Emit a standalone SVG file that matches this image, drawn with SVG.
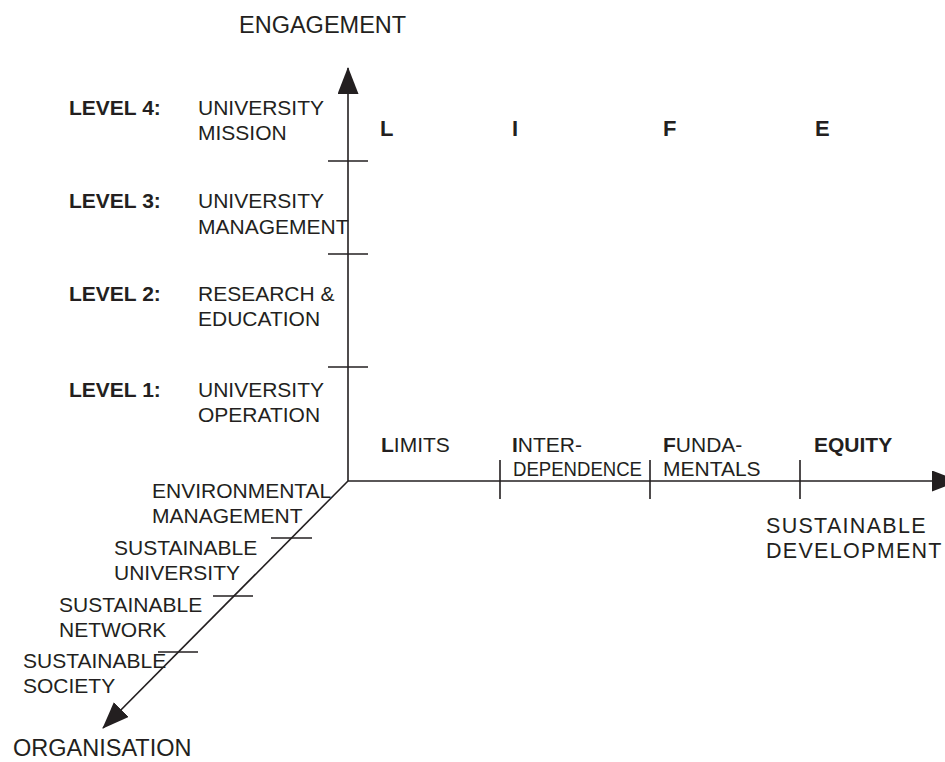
<svg xmlns="http://www.w3.org/2000/svg" width="945" height="762" viewBox="0 0 945 762">
<style>
text { font-family: "Liberation Sans", Arial, Helvetica, sans-serif; font-size: 21px; fill: #231f20; }
.b { font-weight: bold; }
.big { font-size: 22px; font-weight: bold; }
.title { font-size: 23.5px; }
.sd { font-size: 21.5px; letter-spacing: 1.3px; }
.axis { stroke: #231f20; stroke-width: 1.6; fill: none; }
.tick { stroke: #231f20; stroke-width: 1.6; }
</style>
<defs>
<marker id="arrow" markerUnits="userSpaceOnUse" markerWidth="28" markerHeight="22" refX="26" refY="10.5" orient="auto" viewBox="0 0 28 22">
<path d="M0,0 L27,10.5 L0,21 Z" fill="#231f20"/>
</marker>
</defs>
<rect width="945" height="762" fill="#ffffff"/>

<g id="connectors">
<line class="axis" x1="348" y1="481" x2="348" y2="68" marker-end="url(#arrow)"/>
<line class="axis" x1="348" y1="481" x2="958" y2="481" marker-end="url(#arrow)"/>
<line class="axis" x1="348" y1="481" x2="103" y2="728" marker-end="url(#arrow)"/>
<line class="tick" x1="328" y1="161" x2="368" y2="161"/>
<line class="tick" x1="328" y1="254" x2="368" y2="254"/>
<line class="tick" x1="328" y1="367" x2="368" y2="367"/>
<line class="tick" x1="500" y1="460" x2="500" y2="499"/>
<line class="tick" x1="650" y1="460" x2="650" y2="499"/>
<line class="tick" x1="800" y1="460" x2="800" y2="499"/>
<line class="tick" x1="271" y1="538" x2="312" y2="538"/>
<line class="tick" x1="213" y1="596" x2="253" y2="596"/>
<line class="tick" x1="158" y1="652" x2="198" y2="652"/>
</g>

<g id="engagement-title"><text class="title" x="239" y="33">ENGAGEMENT</text></g>

<g id="level4">
<text class="b" x="69" y="115">LEVEL 4:</text>
<text x="198" y="115">UNIVERSITY</text>
<text x="198" y="140">MISSION</text>
</g>
<g id="level3">
<text class="b" x="69" y="208">LEVEL 3:</text>
<text x="198" y="208">UNIVERSITY</text>
<text x="198" y="234">MANAGEMENT</text>
</g>
<g id="level2">
<text class="b" x="69" y="301">LEVEL 2:</text>
<text x="198" y="301">RESEARCH &amp;</text>
<text x="198" y="326">EDUCATION</text>
</g>
<g id="level1">
<text class="b" x="69" y="397">LEVEL 1:</text>
<text x="198" y="397">UNIVERSITY</text>
<text x="198" y="422">OPERATION</text>
</g>

<g id="life">
<text class="big" x="380" y="136">L</text>
<text class="big" x="512" y="136">I</text>
<text class="big" x="663" y="136">F</text>
<text class="big" x="815" y="136">E</text>
</g>

<g id="limits"><text x="381" y="452"><tspan class="b">L</tspan>IMITS</text></g>
<g id="interdependence">
<text x="512" y="452"><tspan class="b">I</tspan>NTER-</text>
<text x="513" y="476" textLength="129" lengthAdjust="spacingAndGlyphs">DEPENDENCE</text>
</g>
<g id="fundamentals">
<text x="663" y="452"><tspan class="b">F</tspan>UNDA-</text>
<text x="663" y="476">MENTALS</text>
</g>
<g id="equity"><text class="b" x="814" y="452">EQUITY</text></g>

<g id="sd-title">
<text class="sd" x="766" y="533">SUSTAINABLE</text>
<text class="sd" x="766" y="558">DEVELOPMENT</text>
</g>

<g id="env-management">
<text x="152" y="498">ENVIRONMENTAL</text>
<text x="152" y="523">MANAGEMENT</text>
</g>
<g id="sust-university">
<text x="114" y="555">SUSTAINABLE</text>
<text x="114" y="580">UNIVERSITY</text>
</g>
<g id="sust-network">
<text x="59" y="612">SUSTAINABLE</text>
<text x="59" y="637">NETWORK</text>
</g>
<g id="sust-society">
<text x="23" y="668">SUSTAINABLE</text>
<text x="23" y="693">SOCIETY</text>
</g>
<g id="organisation-title"><text class="title" x="13" y="756">ORGANISATION</text></g>
</svg>
